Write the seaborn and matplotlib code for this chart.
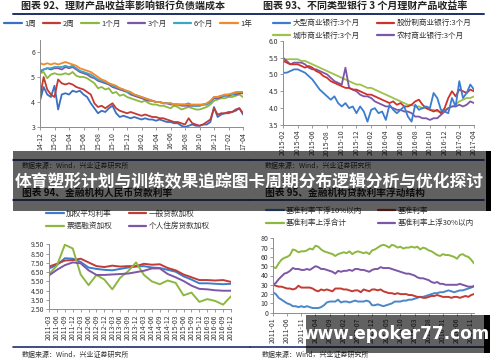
import numpy as np
import pandas as pd
import matplotlib
matplotlib.use("Agg")
import matplotlib.pyplot as plt
import seaborn as sns
from matplotlib.patches import Rectangle
from matplotlib.lines import Line2D

sns.set_theme(style="white")
plt.rcParams["font.family"] = ["Noto Sans CJK SC", "DejaVu Sans"]

# ---- chart 92: half-monthly, 14-12 .. 17-04
ticks92 = ["14-12", "15-02", "15-04", "15-06", "15-08", "15-10", "15-12", "16-02",
           "16-04", "16-06", "16-08", "16-10", "16-12", "17-02", "17-04"]
w1 = [4.05, 4.6, 4.3, 4.2, 4.65, 3.7, 4.3, 4.35, 4.3, 4.45, 4.4, 4.45, 4.3, 4.2, 3.95, 3.75,
      3.55, 3.65, 3.6, 3.75, 3.85, 3.55, 3.4, 3.45, 3.4, 3.35, 3.4, 3.35, 3.3, 3.35, 3.3, 3.3,
      3.25, 3.3, 3.25, 3.2, 3.2, 3.15, 3.15, 3.05, 3.0, 3.05, 3.1, 3.05, 3.05, 3.1, 3.1, 3.2,
      3.8, 3.4, 3.5, 3.55, 3.55, 3.6, 3.65, 3.75, 3.5]
w2 = [4.2, 5.0, 4.5, 4.3, 4.2, 4.9, 4.75, 4.7, 4.75, 4.7, 4.6, 4.55, 4.5, 4.4, 4.3, 3.95,
      3.8, 3.85, 3.75, 3.85, 3.95, 3.75, 3.65, 3.6, 3.55, 3.6, 3.55, 3.5, 3.45, 3.5, 3.45, 3.4,
      3.4, 3.35, 3.35, 3.3, 3.25, 3.2, 3.2, 3.15, 3.1, 3.35, 3.15, 3.1, 3.05, 3.1, 3.2, 3.3,
      3.75, 3.5, 3.55, 3.55, 3.6, 3.6, 3.7, 3.75, 3.55]
m1 = [5.15, 5.2, 4.95, 5.1, 5.15, 5.1, 5.1, 5.15, 5.1, 5.2, 5.05, 5.0, 5.0, 4.95, 4.85, 4.75,
      4.55, 4.6, 4.5, 4.55, 4.35, 4.4, 4.25, 4.3, 4.2, 4.15, 4.1, 4.05, 4.0, 4.05, 3.95, 3.9,
      3.9, 3.85, 3.85, 3.8, 3.75, 3.85, 3.8, 3.7, 3.75, 3.8, 3.75, 3.7, 3.7, 3.75, 3.8, 3.9,
      4.05, 4.1, 4.15, 4.15, 4.2, 4.2, 4.25, 4.3, 4.2]
m3 = [5.2, 5.3, 5.35, 5.3, 5.35, 5.35, 5.3, 5.4, 5.35, 5.4, 5.3, 5.2, 5.15, 5.1, 5.0, 4.95,
      4.85, 4.8, 4.75, 4.7, 4.6, 4.55, 4.5, 4.45, 4.4, 4.3, 4.25, 4.2, 4.15, 4.1, 4.05, 4.05,
      4.0, 4.0, 3.95, 3.95, 3.9, 3.9, 3.9, 3.85, 3.85, 3.85, 3.85, 3.85, 3.85, 3.9, 3.9, 4.0,
      4.15, 4.15, 4.2, 4.25, 4.25, 4.3, 4.3, 4.35, 4.35]
m6 = [5.25, 5.3, 5.35, 5.35, 5.4, 5.4, 5.4, 5.45, 5.4, 5.45, 5.35, 5.25, 5.2, 5.15, 5.1, 5.0,
      4.9, 4.85, 4.8, 4.75, 4.65, 4.6, 4.55, 4.5, 4.4, 4.35, 4.3, 4.25, 4.2, 4.15, 4.1, 4.05,
      4.0, 4.0, 3.95, 3.95, 3.95, 3.9, 3.9, 3.9, 3.9, 3.95, 3.85, 3.85, 3.85, 3.9, 3.9, 4.0,
      4.2, 4.2, 4.25, 4.25, 4.3, 4.3, 4.35, 4.4, 4.4]
y1 = [5.55, 5.5, 5.55, 5.5, 5.55, 5.5, 5.55, 5.6, 5.55, 5.5, 5.45, 5.35, 5.3, 5.25, 5.2, 5.1,
      5.0, 4.9, 4.85, 4.75, 4.7, 4.65, 4.55, 4.5, 4.45, 4.4, 4.3, 4.25, 4.2, 4.15, 4.1, 4.05,
      4.0, 4.0, 3.95, 3.95, 3.95, 3.9, 3.9, 3.9, 3.9, 3.9, 3.9, 3.9, 3.9, 3.9, 3.95, 4.05,
      4.2, 4.2, 4.25, 4.3, 4.3, 4.35, 4.4, 4.4, 4.4]

# ---- chart 93: half-monthly, 2015-02 .. 2017-04
ticks93 = ["2015-02", "2015-04", "2015-06", "2015-08", "2015-10", "2015-12", "2016-02",
           "2016-04", "2016-06", "2016-08", "2016-10", "2016-12", "2017-02", "2017-04"]
big = [5.05, 5.05, 5.1, 5.15, 5.15, 5.1, 5.05, 4.95, 4.85, 4.7, 4.55, 4.45, 4.35, 4.25,
       4.35, 4.15, 4.05, 4.15, 4.0, 4.05, 3.85, 4.05, 3.9, 3.6, 3.95, 4.0, 3.85, 3.9, 3.65,
       4.1, 3.95, 3.85, 3.95, 4.05, 3.75, 3.6, 4.1, 3.95, 4.0, 4.05, 4.0, 4.45, 4.3, 3.95,
       3.9, 3.85, 4.3, 4.05, 4.8, 4.3, 4.45, 4.7, 4.55]
joint = [5.4, 5.35, 5.3, 5.3, 5.3, 5.25, 5.2, 5.25, 5.2, 5.1, 5.05, 4.95, 4.9, 4.8, 4.75,
         4.7, 4.65, 4.6, 4.6, 4.55, 4.55, 4.5, 4.45, 4.4, 4.4, 4.35, 4.3, 4.25, 4.2, 4.15,
         4.2, 4.1, 4.15, 4.05, 4.05, 4.1, 4.2, 4.25, 4.1, 4.0, 3.95, 3.9, 3.95, 3.85, 4.0,
         4.3, 4.5, 4.35, 4.55, 4.5, 4.45, 4.55, 4.5]
city = [5.4, 5.45, 5.45, 5.45, 5.45, 5.4, 5.4, 5.35, 5.3, 5.25, 5.2, 5.15, 5.1, 5.05, 5.0,
        4.95, 4.9, 4.85, 4.8, 4.75, 4.7, 4.7, 4.65, 4.6, 4.6, 4.55, 4.5, 4.45, 4.4, 4.35,
        4.3, 4.25, 4.2, 4.15, 4.1, 4.1, 4.05, 4.05, 4.0, 4.0, 3.95, 3.95, 3.9, 3.9, 3.95,
        4.0, 4.05, 4.1, 4.2, 4.25, 4.3, 4.3, 4.35]
rural = [5.5, 5.4, 5.3, 5.35, 5.35, 5.35, 5.3, 5.2, 5.15, 5.15, 5.1, 5.05, 5.0, 4.9, 4.8,
         4.75, 4.7, 5.2, 4.6, 4.55, 4.5, 4.4, 4.35, 4.35, 4.3, 4.2, 4.15, 4.1, 4.05, 4.05,
         4.0, 3.95, 3.95, 3.9, 3.9, 3.85, 3.75, 3.75, 3.7, 3.7, 3.65, 3.7, 3.7, 3.8, 3.9,
         4.0, 4.05, 4.05, 4.1, 4.05, 4.1, 4.2, 4.15]

# ---- chart 94: quarterly, 2011-03 .. 2016-12
ticks94 = [f"{y}-{q}" for y in range(2011, 2017) for q in ["03", "06", "09", "12"]]
avg = [6.9, 7.25, 8.0, 7.95, 7.6, 7.0, 6.85, 6.75, 6.7, 6.85, 7.0, 7.1, 7.15, 7.0, 6.95,
       6.75, 6.55, 6.05, 5.7, 5.3, 5.3, 5.25, 5.2, 5.25]
general = [7.1, 7.4, 7.75, 7.8, 7.95, 7.55, 7.15, 7.05, 7.2, 7.1, 7.15, 7.15, 7.4, 7.3,
           7.35, 6.95, 6.7, 6.25, 5.95, 5.65, 5.65, 5.6, 5.65, 5.45]
bill = [6.3, 7.2, 9.45, 9.05, 6.25, 5.1, 6.2, 5.7, 4.65, 5.9, 6.6, 7.55, 6.2, 5.5, 5.2,
        5.6, 5.35, 4.0, 4.3, 3.3, 3.6, 3.4, 3.0, 3.9]
housing = [6.15, 6.75, 7.25, 7.55, 7.45, 6.7, 6.2, 6.2, 6.25, 6.3, 6.35, 6.5, 6.65, 6.9,
           6.9, 6.3, 5.95, 5.55, 5.05, 4.7, 4.65, 4.55, 4.5, 4.5]

# ---- chart 95: monthly, 2011-01 .. 2016-12
ticks95 = ["2011-01", "2011-06", "2011-11", "2012-04", "2012-09", "2013-02", "2013-07",
           "2013-12", "2014-05", "2014-10", "2015-03", "2015-08", "2016-01", "2016-06",
           "2016-11"]
down10 = [22, 20, 16, 14, 12, 10, 9, 7, 7, 6, 7, 6, 7, 6, 5, 5, 5, 6, 8, 11, 12, 12, 12, 14,
          11, 12, 12, 11, 12, 13, 12, 12, 12, 13, 12, 8, 8, 9, 8, 7, 8, 9, 10, 12, 12, 12, 13,
          13, 14, 14, 15, 16, 17, 17, 18, 19, 20, 21, 21, 22, 22, 23, 24, 23, 22, 23, 24, 24,
          25, 26, 27, 29]
base = [30, 29, 28, 28, 27, 26, 26, 25, 26, 29, 27, 27, 27, 27, 26, 24, 23, 25, 24, 25, 24,
        23, 26, 26, 26, 25, 25, 24, 23, 24, 24, 22, 25, 24, 23, 25, 25, 24, 25, 23, 22, 21,
        21, 20, 21, 20, 20, 20, 19, 19, 18, 17, 17, 16, 16, 17, 18, 18, 19, 18, 17, 17, 17,
        16, 17, 17, 16, 17, 18, 17, 19, 20]
up_total = [49, 48, 53, 57, 59, 60, 62, 68, 67, 65, 66, 66, 67, 69, 68, 72, 71, 68, 66, 65,
            64, 63, 61, 63, 64, 65, 64, 66, 63, 65, 66, 65, 64, 65, 63, 67, 68, 70, 72, 73,
            72, 70, 73, 72, 70, 71, 69, 70, 70, 71, 70, 71, 68, 70, 69, 67, 66, 64, 62, 61,
            63, 62, 62, 61, 60, 58, 62, 63, 61, 60, 57, 53]
up30 = [30, 32, 36, 39, 42, 43, 45, 48, 47, 47, 46, 46, 47, 46, 48, 50, 49, 47, 47, 46, 45,
        44, 42, 45, 44, 45, 45, 46, 45, 47, 47, 46, 46, 45, 44, 46, 47, 47, 49, 48, 48, 48,
        47, 46, 45, 44, 43, 42, 42, 41, 40, 38, 37, 37, 36, 35, 33, 32, 33, 31, 31, 30, 30,
        30, 30, 30, 31, 30, 29, 28, 28, 28]

W, H = 500, 362
fig = plt.figure(figsize=(5, 3.62), dpi=100)
fig.patch.set_facecolor("white")


def rect(l, t, r, b):
    return [l / W, 1 - b / H, (r - l) / W, (b - t) / H]


def fx(x):
    return x / W


def fy(y):
    return 1 - y / H


def style_axes(ax):
    for s in ["top", "right"]:
        ax.spines[s].set_visible(False)
    for s in ["left", "bottom"]:
        ax.spines[s].set_color("#8c8c8c")
        ax.spines[s].set_linewidth(0.7)
    ax.tick_params(axis="both", which="both", length=2, width=0.6, color="#8c8c8c",
                   labelsize=5, labelcolor="#333333", pad=1.5, direction="out",
                   bottom=True, left=True)
    ax.set_xlabel("")
    ax.set_ylabel("")
    ax.grid(False)


def draw(ax, x, series, colors, lw=1.3):
    for vals, c in zip(series, colors):
        sns.lineplot(x=x, y=vals, ax=ax, color=c, linewidth=lw, legend=False)


def legend(ax, names, colors, cx, cy, ncol, fs=5.5, colsp=1.0):
    handles = [Line2D([], [], color=c, linewidth=1.6) for c in colors]
    ax.legend(handles, names, loc="center", bbox_to_anchor=(fx(cx), fy(cy)),
              bbox_transform=fig.transFigure, ncol=ncol, frameon=False, fontsize=fs,
              handlelength=2.3, handletextpad=0.3, columnspacing=colsp, labelspacing=0.6,
              labelcolor="#333333")


c6 = ["#3b6fc2", "#c23b35", "#8cb83f", "#7d56a6", "#3aa7c5", "#f08a2a"]

# chart 92
ax1 = fig.add_axes(rect(40, 39.5, 243, 127))
x1 = np.arange(len(w1)) / 2
draw(ax1, x1, [w1, w2, m1, m3, m6, y1], c6)
ax1.set_xlim(0, 28)
ax1.set_ylim(3, 6.5)
ax1.set_yticks([3, 4, 5, 6])
ax1.set_yticklabels(["3", "4", "5", "6"])
ax1.set_xticks(np.arange(0, 29, 2))
ax1.set_xticklabels(ticks92, rotation=90)
style_axes(ax1)
legend(ax1, ["1周", "2周", "1个月", "3个月", "6个月", "1年"], c6, 128, 24, 6, colsp=0.9)

# chart 93
c4 = ["#3b7dd0", "#d0312b", "#9cc24a", "#7d56a6"]
ax2 = fig.add_axes(rect(283, 40.7, 474, 125))
x2 = np.arange(len(big)) / 2
draw(ax2, x2, [city, rural, joint, big], [c4[2], c4[3], c4[1], c4[0]], lw=1.3)
ax2.set_xlim(0, 26)
ax2.set_ylim(3.5, 6.0)
ax2.set_yticks([3.5, 4.0, 4.5, 5.0, 5.5, 6.0])
ax2.set_yticklabels(["3.5", "4.0", "4.5", "5.0", "5.5", "6.0"])
ax2.set_xticks(np.arange(0, 27, 2))
ax2.set_xticklabels(ticks93, rotation=90)
style_axes(ax2)
legend(ax2, ["大型商业银行:3个月", "城市商业银行:3个月", "股份制商业银行:3个月", "农村商业银行:3个月"],
       [c4[0], c4[2], c4[1], c4[3]], 372, 29.5, 2, colsp=2.2)

# chart 94
c94 = ["#3b7dd0", "#c23b35", "#8cb83f", "#7d56a6"]
ax3 = fig.add_axes(rect(49, 244.3, 231, 309.3))
x3 = np.arange(len(avg))
draw(ax3, x3, [avg, general, bill, housing], c94, lw=1.4)
ax3.set_xlim(0, 23)
ax3.set_ylim(2.5, 9.5)
ax3.set_yticks(np.arange(2.5, 9.6, 1.0))
ax3.set_yticklabels([f"{v:.2f}" for v in np.arange(2.5, 9.6, 1.0)])
ax3.set_xticks(x3)
ax3.set_xticklabels(ticks94, rotation=90)
style_axes(ax3)
legend(ax3, ["加权平均利率", "票据融资加权", "一般贷款加权", "个人住房贷款加权"],
       [c94[0], c94[2], c94[1], c94[3]], 128, 220, 2, colsp=2.2)

# chart 95
c95 = ["#4a86c8", "#c23b35", "#8cb83f", "#7d56a6"]
ax4 = fig.add_axes(rect(273, 238.3, 474, 312.7))
x4 = np.arange(len(down10))
draw(ax4, x4, [down10, base, up_total, up30], c95, lw=1.4)
ax4.set_xlim(0, 71)
ax4.set_ylim(0, 80)
ax4.set_yticks(np.arange(0, 81, 10))
ax4.set_xticks(np.arange(0, 71, 5))
ax4.set_xticklabels(ticks95, rotation=90)
style_axes(ax4)
legend(ax4, ["基准利率下浮10%以内", "基准利率上浮合计", "基准利率", "基准利率上浮30%以内"],
       [c95[0], c95[2], c95[1], c95[3]], 370, 217, 2, colsp=2.0)

# page decorations: titles, rules, sources
navy = "#1f2f6b"
fig.text(fx(21), fy(7), "图表 92、理财产品收益率影响银行负债端成本", fontsize=7.2,
         fontweight="bold", color="#222222", va="center")
fig.text(fx(263), fy(6), "图表 93、不同类型银行 3 个月理财产品收益率", fontsize=7.2,
         fontweight="bold", color="#222222", va="center")
for x0, x1_ in [(13, 250), (250, 484)]:
    fig.add_artist(Line2D([fx(x0), fx(x1_)], [fy(13.5), fy(13.5)], color=navy, linewidth=1.4))

# section hidden behind the banner
for x0, x1_ in [(13, 250), (250, 484)]:
    fig.add_artist(Line2D([fx(x0), fx(x1_)], [fy(160), fy(160)], color=navy, linewidth=1.2))
    fig.add_artist(Line2D([fx(x0), fx(x1_)], [fy(200), fy(200)], color=navy, linewidth=1.2))
fig.text(fx(22), fy(166), "数据来源：Wind，兴业证券研究所", fontsize=5, color="#333333", va="center")
fig.text(fx(265), fy(166), "数据来源：Wind，兴业证券研究所", fontsize=5, color="#333333", va="center")
fig.text(fx(22), fy(193), "图表 94、金融机构人民币贷款利率", fontsize=7, fontweight="bold",
         color="#222222", va="center")
fig.text(fx(265), fy(193), "图表 95、金融机构贷款利率浮动结构", fontsize=7, fontweight="bold",
         color="#222222", va="center")

# bottom rules and sources
for x0, x1_ in [(13, 250), (250, 484)]:
    fig.add_artist(Line2D([fx(x0), fx(x1_)], [fy(347), fy(347)], color=navy, linewidth=1.2))
fig.text(fx(22), fy(355), "数据来源：Wind，兴业证券研究所", fontsize=5, color="#333333", va="center")
fig.text(fx(262), fy(355), "数据来源：Wind，兴业证券研究所", fontsize=5, color="#333333", va="center")

# banner overlay
fig.add_artist(Rectangle((fx(13), fy(211)), fx(473), 60 / H, transform=fig.transFigure,
                         facecolor="black", alpha=0.62, edgecolor="none", zorder=20))
fig.add_artist(Rectangle((fx(486), fy(211)), fx(5), 60 / H, transform=fig.transFigure,
                         facecolor="black", edgecolor="none", zorder=20))
fig.text(fx(249), fy(182), "体育塑形计划与训练效果追踪图卡周期分布逻辑分析与优化探讨",
         fontsize=12.1, fontweight="bold", color="white", ha="center", va="center", zorder=21)

# watermark
fig.add_artist(Rectangle((fx(306), fy(353)), fx(178), 38 / H, transform=fig.transFigure,
                         facecolor="black", alpha=0.62, edgecolor="none", zorder=20))
fig.add_artist(Rectangle((fx(484), fy(353)), fx(6), 38 / H, transform=fig.transFigure,
                         facecolor="black", edgecolor="none", zorder=20))
fig.text(fx(396), fy(334), "www.epoker77.com", fontsize=12.2, fontweight="bold", color="white",
         ha="center", va="center", zorder=21, family=["DejaVu Sans"])

fig.savefig("out.png", dpi=100)
